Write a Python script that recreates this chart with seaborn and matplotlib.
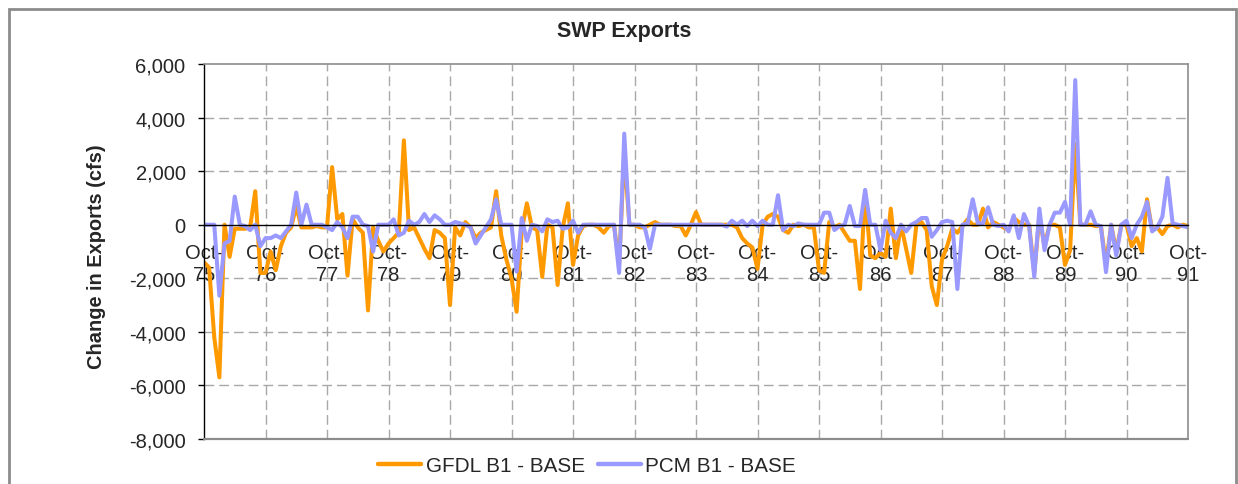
import numpy as np
import pandas as pd
import matplotlib
matplotlib.use("Agg")
import matplotlib.pyplot as plt
import seaborn as sns
from matplotlib.lines import Line2D
from matplotlib.patches import Rectangle

# Monthly change in SWP exports (cfs), Oct-75 .. Oct-91
gfdl_b1 = [
    -1400, -1600, -4200, -5700, 0, -1200, -150, -150, -150, -100, 1250, -1800,
    -1800, -1000, -1700, -800, -300, -100, 700, -100, -100, -100, -50, -100,
    -100, 2150, 200, 400, -1900, 200, -100, -300, -3200, -100, -600, -1000,
    -700, -500, -300, 3150, -200, -100, -500, -900, -1250, -200, -300, -500,
    -3000, -100, -400, 100, -100, -500, -300, -200, -100, 1250, -400, -1300,
    -2000, -3250, -200, 800, -100, -200, -1950, 0, -100, -2250, -100, 800,
    -1500, -400, -50, 0, 0, -100, -300, -50, 0, -1500, 2700, 0,
    0, -100, -100, 0, 100, 0, 0, 0, -50, -50, -400, 0,
    470, 0, 0, 0, 0, 0, 0, 0, -100, -500, -700, -850,
    -1650, 0, 300, 400, 300, -200, -300, 0, -50, 0, -100, -100,
    -1700, -1800, 100, -100, 0, -300, -600, -600, -2400, 1250, -1150, -1250,
    -1050, -1200, 600, -1250, 0, -900, -1800, 0, 100, -200, -2300, -3000,
    -1300, -800, -150, -300, -50, 200, 0, 0, 600, -100, 100, 0,
    -100, -200, 250, 100, 0, 0, -1800, 300, -800, 0, 0, -100,
    -1500, -950, 3000, 0, 0, 0, -50, -50, -1500, 0, -1000, 0,
    0, -800, -500, -1000, 950, -200, -100, -350, -50, 0, -100, 0,
    -50,
]
pcm_b1 = [
    0, 0, 0, -2650, -700, -600, 1050, 0, -50, -200, 0, -800,
    -500, -500, -400, -500, -250, 0, 1200, 0, 750, 0, 0, 0,
    -100, -200, 100, -100, -500, 300, 300, 0, -50, -1000, 0, 0,
    0, 200, -400, -300, 150, 0, 100, 400, 100, 350, 200, 0,
    0, 100, 50, 0, -100, -700, -400, -100, 200, 950, 0, 0,
    0, -1750, 250, -600, 0, -50, -250, 200, 100, 150, -150, -100,
    150, -300, 0, 0, 0, 0, 0, 0, 0, -1800, 3400, 0,
    0, 0, -100, -900, 0, 0, 0, 0, 0, 0, 0, 0,
    0, 0, 0, 0, 0, 0, -70, 150, 0, 150, -50, 150,
    -50, 150, 0, 0, 1100, -200, 0, -50, 50, 0, 0, 0,
    0, 450, 450, -200, -50, 0, 700, -50, -50, 1300, 0, 0,
    -950, 150, -300, -500, 0, -250, 0, 100, 250, 250, -450, -200,
    100, 150, 100, -2400, 0, 50, 950, 50, 50, 650, 0, -50,
    0, -250, 350, -500, 400, -50, -1950, 600, -950, 0, 450, 450,
    850, 0, 5400, 0, 0, 500, 0, -50, -1770, 0, -1150, 0,
    150, -500, 0, 300, 850, -250, -100, 300, 1750, 50, 0, -50,
    -100,
]
years = list(range(75, 92))
x_labels = [f"Oct-\n{y}" for y in years]
series_names = ["GFDL B1 - BASE", "PCM B1 - BASE"]
colors = {"GFDL B1 - BASE": "#FF9900", "PCM B1 - BASE": "#9999FF"}

df = pd.DataFrame({"month": np.arange(len(gfdl_b1)),
                   series_names[0]: gfdl_b1,
                   series_names[1]: pcm_b1})
long = df.melt(id_vars="month", var_name="series", value_name="change")

sns.set_theme(style="white")
plt.rcParams["font.family"] = ["Liberation Sans", "DejaVu Sans"]

W, H = 1238, 485
fig = plt.figure(figsize=(W / 100, H / 100), dpi=100)
fig.patch.set_facecolor("white")

# outer chart frame
fig.patches.append(Rectangle((8.5 / W, -0.1), (1236 - 8.5) / W, 1.1 - 10 / H,
                             transform=fig.transFigure, fill=False,
                             edgecolor="#8c8c8c", linewidth=2.0))

left, right, top, bottom = 204, 1188, 65, 440
ax = fig.add_axes([left / W, 1 - bottom / H, (right - left) / W, (bottom - top) / H])

sns.lineplot(data=long, x="month", y="change", hue="series",
             hue_order=series_names, palette=colors, linewidth=2.9,
             legend=False, ax=ax)

n = len(gfdl_b1) - 1
ax.set_xlim(0, n)
ax.set_ylim(-8000, 6000)
ax.set_xticks(np.arange(0, n + 1, 12))
ax.set_xticklabels(x_labels, linespacing=1.5)
yt = np.arange(-8000, 6001, 2000)
ax.set_yticks(yt)
ax.set_yticklabels([f"{v:,.0f}" for v in yt])
ax.set_xlabel("")
ax.set_ylabel("")

grid_kw = dict(color="#a8a8a8", linewidth=1.0, dashes=(7, 3.6))
for v in yt[1:-1]:
    if v != 0:
        ax.axhline(v, zorder=0, **grid_kw)
for m in np.arange(12, n, 12):
    ax.axvline(m, zorder=0, **grid_kw)

for s in ["top", "right"]:
    ax.spines[s].set_color("#8c8c8c")
    ax.spines[s].set_linewidth(1.2)
ax.spines["left"].set_color("black")
ax.spines["left"].set_linewidth(1.0)
ax.spines["bottom"].set_position(("data", 0))
ax.spines["bottom"].set_color("black")
ax.spines["bottom"].set_linewidth(1.0)
ax.axhline(-8000, color="#8c8c8c", linewidth=1.6, clip_on=False, zorder=3)

ax.tick_params(axis="y", direction="out", length=4.3, width=1, color="black",
               pad=9, labelsize=14.5, left=True)
ax.tick_params(axis="x", length=0, pad=13, labelsize=14.5)

fig.text(624 / W, 1 - 32 / H, "SWP Exports", ha="center", va="center",
         fontsize=15.5, fontweight="bold")
fig.text(97 / W, 1 - 257 / H, "Change in Exports (cfs)", ha="center",
         va="center", rotation=90, fontsize=14.4, fontweight="bold")

handles = [Line2D([], [], color=colors[s], linewidth=3.2) for s in series_names]
fig.legend(handles, series_names, loc="center",
           bbox_to_anchor=(587 / W, 1 - 467 / H), ncol=2, frameon=False,
           fontsize=14.9, handlelength=2.08, handletextpad=0.2,
           columnspacing=0.63)

fig.savefig("out.png", dpi=100)
